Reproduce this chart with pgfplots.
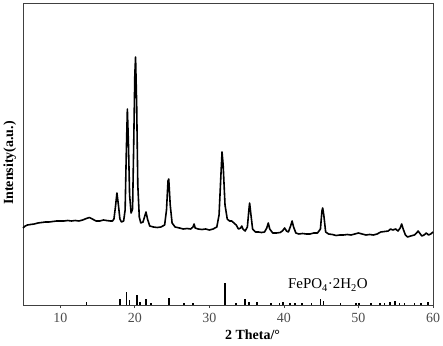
\documentclass[border=0pt]{standalone}
\usepackage{fontspec}
\setmainfont{Liberation Serif}
\usepackage{pgfplots}
\pgfplotsset{compat=1.18}
\begin{document}
\fontsize{14}{16}\selectfont
\begin{tikzpicture}
\begin{axis}[
  scale only axis,
  width=410bp, height=302bp,
  xmin=5, xmax=60, ymin=0, ymax=302,
  xtick={10,20,...,60},
  ytick=\empty,
  tick align=outside,
  xtick pos=bottom,
  major tick length=3bp,
  axis line style={black!75, line width=0.8pt},
  every tick/.style={black!75, line width=0.8pt},
  /pgf/number format/assume math mode=true,
  ticklabel style={font=\fontsize{14}{16}\selectfont, text=black!70},
  xticklabel style={yshift=0bp},
  xlabel={2 Theta/°},
  ylabel={Intensity(a.u.)},
  label style={font=\fontsize{14}{16}\selectfont\bfseries},
  xlabel style={at={(axis description cs:0.56,-0.1)}, anchor=center},
  ylabel style={at={(axis description cs:-0.032,0.47)}, anchor=center},
  clip=false,
]
\addplot[black, line width=1.6pt, line join=round] coordinates {
(5,77)(5.3,79)(5.6,80)(6,80.5)(6.5,81)(7,82)(7.5,82.5)(8,83)(8.5,83)(9,83.5)(9.5,84)(10,84)(10.5,84)(11,84.5)(11.5,84)(12,84.5)(12.5,84)(13,85)(13.5,86.5)(13.9,87.5)(14.3,86)(14.8,84)(15.3,84)(15.8,85)(16.2,84.5)(16.7,84)(17,84)(17.2,86)(17.4,98)(17.6,112)(17.8,100)(18.0,86)(18.2,83)(18.5,84)(18.7,95)(18.85,150)(19.0,196)(19.15,160)(19.3,110)(19.5,92)(19.7,96)(19.85,160)(20.0,230)(20.1,248)(20.25,200)(20.4,120)(20.6,88)(20.8,82)(21.1,83)(21.3,88)(21.5,93)(21.7,86)(22,79)(22.5,78)(23,77.5)(23.5,78)(24,80)(24.25,95)(24.45,124)(24.55,126)(24.75,100)(25.0,82)(25.4,78)(26,77)(26.5,76)(27,76.5)(27.5,76)(27.8,78)(27.95,81)(28.1,77)(28.5,76)(29,75.5)(29.5,76)(30,75)(30.5,76)(31,78)(31.3,90)(31.55,130)(31.7,153)(31.85,140)(32.1,100)(32.4,86)(32.7,84)(33,84)(33.3,82)(33.6,80)(33.9,76)(34.2,77)(34.35,79)(34.5,76)(34.8,74)(35.1,78)(35.3,95)(35.4,102)(35.55,92)(35.8,76)(36.2,73)(36.6,73)(37,72.5)(37.4,73)(37.7,77)(37.9,82)(38.1,76)(38.5,72)(39,72)(39.5,72.5)(39.8,74)(40.1,77)(40.35,74)(40.6,73)(40.9,79)(41.1,84)(41.3,78)(41.6,72)(42,71)(42.5,71.5)(43,71)(43.5,71)(44,72)(44.5,72)(44.9,76)(45.1,94)(45.2,97)(45.35,90)(45.6,73)(46,71)(46.5,70.5)(47,69.5)(47.5,70)(48,70)(48.5,70.5)(49,70)(49.5,71)(50,72)(50.5,71)(51,70)(51.5,70.5)(52,70)(52.5,71)(53,73)(53.5,73.5)(54,74)(54.3,76)(54.6,75)(55,76)(55.3,74)(55.6,77)(55.8,81)(56,76)(56.3,70)(56.6,68)(57,69)(57.5,70)(57.8,72)(58,74)(58.2,72)(58.5,69)(58.8,70)(59.1,72)(59.4,70)(59.7,71)(60,73)
};
\addplot[black, ycomb, line width=1.6pt] coordinates {
(13.5,3)(18.0,6)(18.9,13)(19.3,5)(20.3,10)(20.7,3)(21.5,6)(22.2,2)(24.6,7)(26.6,2)(27.8,2)(32.1,22)(33.6,2)(34.8,6)(35.3,3)(36.4,3)(38.3,2)(39.4,2)(39.9,3)(40.8,2)(41.5,2)(42.4,2)(43.7,2)(44.9,6)(45.3,4)(47.6,2)(49.7,2)(50.1,2)(51.7,2)(52.9,2)(53.5,2)(54.2,3)(54.9,4)(55.5,2)(56.2,2)(57.5,2)(58.4,2)(59.3,3)
};
\node[font=\fontsize{15}{17}\selectfont] at (axis cs:45.9,20) {FePO\textsubscript{4}·2H\textsubscript{2}O};
\end{axis}
\pgfresetboundingbox
\path (current axis.south west) ++(-23bp,-41bp) rectangle ([xshift=10bp,yshift=3bp]current axis.north east);
\end{tikzpicture}
\end{document}
